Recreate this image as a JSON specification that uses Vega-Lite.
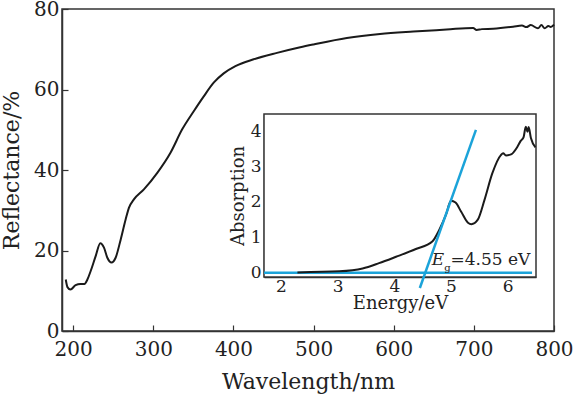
{
  "$schema": "https://vega.github.io/schema/vega-lite/v6.json",
  "width": 492,
  "height": 322,
  "autosize": "none",
  "padding": {"left": 62, "top": 9, "right": 20, "bottom": 67},
  "background": "white",
  "config": {
    "view": {"stroke": "#333", "strokeWidth": 1.5},
    "font": "DejaVu Serif",
    "axis": {"grid": false, "domainColor": "#333", "domainWidth": 1.5, "tickColor": "#333", "tickWidth": 1.2, "labelColor": "#222", "titleColor": "#222", "labelFont": "DejaVu Serif", "titleFont": "DejaVu Serif", "titleFontWeight": "normal"}
  },
  "layer": [
    {
      "data": {"values": [
        {"wavelength": 190.7, "reflectance": 12.8},
        {"wavelength": 192.8, "reflectance": 10.9},
        {"wavelength": 196.5, "reflectance": 10.3},
        {"wavelength": 203, "reflectance": 11.4},
        {"wavelength": 209, "reflectance": 11.7},
        {"wavelength": 214, "reflectance": 11.7},
        {"wavelength": 217.7, "reflectance": 12.8},
        {"wavelength": 221.8, "reflectance": 14.9},
        {"wavelength": 228, "reflectance": 18.6},
        {"wavelength": 233.8, "reflectance": 21.8},
        {"wavelength": 238.4, "reflectance": 20.7},
        {"wavelength": 242.6, "reflectance": 18.2},
        {"wavelength": 247.8, "reflectance": 17.0},
        {"wavelength": 252.9, "reflectance": 18.2},
        {"wavelength": 259.2, "reflectance": 22.7},
        {"wavelength": 265.4, "reflectance": 27.7},
        {"wavelength": 269.5, "reflectance": 30.6},
        {"wavelength": 275.7, "reflectance": 32.7},
        {"wavelength": 288.2, "reflectance": 35.2},
        {"wavelength": 304.9, "reflectance": 39.3},
        {"wavelength": 321.4, "reflectance": 44.3},
        {"wavelength": 336, "reflectance": 50.1},
        {"wavelength": 350.4, "reflectance": 54.6},
        {"wavelength": 362.9, "reflectance": 58.3},
        {"wavelength": 375.3, "reflectance": 61.7},
        {"wavelength": 387.8, "reflectance": 64.0},
        {"wavelength": 402.4, "reflectance": 65.8},
        {"wavelength": 425.2, "reflectance": 67.5},
        {"wavelength": 454.3, "reflectance": 69.1},
        {"wavelength": 483.3, "reflectance": 70.5},
        {"wavelength": 499.9, "reflectance": 71.2},
        {"wavelength": 541.5, "reflectance": 72.8},
        {"wavelength": 582.9, "reflectance": 73.8},
        {"wavelength": 624.4, "reflectance": 74.4},
        {"wavelength": 666, "reflectance": 74.9},
        {"wavelength": 699.1, "reflectance": 75.3},
        {"wavelength": 703.4, "reflectance": 74.8},
        {"wavelength": 710, "reflectance": 75.0},
        {"wavelength": 724, "reflectance": 75.1},
        {"wavelength": 748.9, "reflectance": 75.6},
        {"wavelength": 760, "reflectance": 75.9},
        {"wavelength": 765.6, "reflectance": 75.5},
        {"wavelength": 771, "reflectance": 76.0},
        {"wavelength": 780, "reflectance": 75.2},
        {"wavelength": 784.3, "reflectance": 76.0},
        {"wavelength": 788.4, "reflectance": 75.2},
        {"wavelength": 793, "reflectance": 75.8},
        {"wavelength": 796, "reflectance": 75.5},
        {"wavelength": 800, "reflectance": 76.1}
      ]},
      "mark": {"type": "line", "color": "#1a1a1a", "strokeWidth": 2, "interpolate": "monotone"},
      "encoding": {
        "x": {"field": "wavelength", "type": "quantitative",
          "scale": {"domain": [186, 800], "nice": false, "zero": false},
          "axis": {"orient": "bottom", "title": "Wavelength/nm", "values": [200, 300, 400, 500, 600, 700, 800], "format": "d", "tickSize": -6, "labelFontSize": 20, "labelPadding": 14, "titleFontSize": 22, "titlePadding": 12, "labelFlush": false}},
        "y": {"field": "reflectance", "type": "quantitative",
          "scale": {"domain": [0, 80], "nice": false},
          "axis": {"orient": "left", "title": "Reflectance/%", "values": [0, 20, 40, 60, 80], "format": "d", "tickSize": -6, "labelFontSize": 20, "labelPadding": 9, "titleFontSize": 22, "titlePadding": 10, "labelFlush": false}}
      }
    },
    {
      "layer": [
        {
          "data": {"values": [{"E": 1.7, "E2": 6.5, "A": -0.12, "A2": 4.48}]},
          "mark": {"type": "rect", "fill": "white", "stroke": "#333", "strokeWidth": 1.5},
          "encoding": {
            "x": {"field": "E", "type": "quantitative",
              "scale": {"domain": [1.7, 6.5], "range": [202, 474], "nice": false, "zero": false},
              "axis": {"orient": "bottom", "offset": -54, "title": "Energy/eV", "values": [2, 3, 4, 5, 6], "format": "d", "tickSize": -4, "labelFontSize": 17, "labelPadding": 5, "titleFontSize": 18, "titlePadding": 0, "labelFlush": false}},
            "x2": {"field": "E2"},
            "y": {"field": "A", "type": "quantitative",
              "scale": {"domain": [-0.12, 4.48], "range": [268, 105], "nice": false, "zero": false},
              "axis": {"orient": "left", "offset": -202, "title": "Absorption", "values": [0, 1, 2, 3, 4], "format": "d", "tickSize": -4, "labelFontSize": 17, "labelPadding": 7, "titleFontSize": 18, "titlePadding": 3, "labelFlush": false}},
            "y2": {"field": "A2"}
          }
        },
        {
          "data": {"values": [{"E": 1.7, "A": 0}, {"E": 6.43, "A": 0}]},
          "mark": {"type": "line", "color": "#1ba3d9", "strokeWidth": 2.5},
          "encoding": {"x": {"field": "E", "type": "quantitative"}, "y": {"field": "A", "type": "quantitative"}}
        },
        {
          "data": {"values": [
            {"E": 2.29, "A": 0.01},
            {"E": 3.03, "A": 0.04},
            {"E": 3.44, "A": 0.12},
            {"E": 3.73, "A": 0.27},
            {"E": 4.03, "A": 0.45},
            {"E": 4.38, "A": 0.67},
            {"E": 4.67, "A": 0.88},
            {"E": 4.79, "A": 1.2},
            {"E": 4.91, "A": 1.63},
            {"E": 5.0, "A": 2.03},
            {"E": 5.08, "A": 1.98},
            {"E": 5.18, "A": 1.72},
            {"E": 5.3, "A": 1.41},
            {"E": 5.36, "A": 1.37},
            {"E": 5.47, "A": 1.49},
            {"E": 5.59, "A": 2.05},
            {"E": 5.73, "A": 2.81},
            {"E": 5.88, "A": 3.32},
            {"E": 5.92, "A": 3.37},
            {"E": 5.97, "A": 3.31},
            {"E": 6.06, "A": 3.34},
            {"E": 6.17, "A": 3.55},
            {"E": 6.23, "A": 3.72},
            {"E": 6.28, "A": 3.82},
            {"E": 6.32, "A": 4.12},
            {"E": 6.35, "A": 3.98},
            {"E": 6.37, "A": 4.11},
            {"E": 6.41, "A": 3.8},
            {"E": 6.49, "A": 3.54}
          ]},
          "mark": {"type": "line", "color": "#1a1a1a", "strokeWidth": 2, "interpolate": "monotone"},
          "encoding": {"x": {"field": "E", "type": "quantitative"}, "y": {"field": "A", "type": "quantitative"}}
        },
        {
          "data": {"values": [{"E": 4.45, "A": -0.43}, {"E": 5.44, "A": 4.03}]},
          "mark": {"type": "line", "color": "#1ba3d9", "strokeWidth": 2.5},
          "encoding": {"x": {"field": "E", "type": "quantitative"}, "y": {"field": "A", "type": "quantitative"}}
        },
        {
          "data": {"values": [{"E": 4.66, "A": 0.22, "t": "E"}]},
          "mark": {"type": "text", "align": "left", "baseline": "alphabetic", "fontSize": 17, "fontStyle": "italic", "color": "#222", "font": "DejaVu Serif"},
          "encoding": {"x": {"field": "E", "type": "quantitative"}, "y": {"field": "A", "type": "quantitative"}, "text": {"field": "t"}}
        },
        {
          "data": {"values": [{"E": 4.88, "A": 0.05, "t": "g"}]},
          "mark": {"type": "text", "align": "left", "baseline": "alphabetic", "fontSize": 10, "color": "#222", "font": "DejaVu Serif"},
          "encoding": {"x": {"field": "E", "type": "quantitative"}, "y": {"field": "A", "type": "quantitative"}, "text": {"field": "t"}}
        },
        {
          "data": {"values": [{"E": 4.99, "A": 0.22, "t": "=4.55 eV"}]},
          "mark": {"type": "text", "align": "left", "baseline": "alphabetic", "fontSize": 17, "color": "#222", "font": "DejaVu Serif"},
          "encoding": {"x": {"field": "E", "type": "quantitative"}, "y": {"field": "A", "type": "quantitative"}, "text": {"field": "t"}}
        }
      ]
    }
  ],
  "resolve": {"scale": {"x": "independent", "y": "independent"}, "axis": {"x": "independent", "y": "independent"}}
}
